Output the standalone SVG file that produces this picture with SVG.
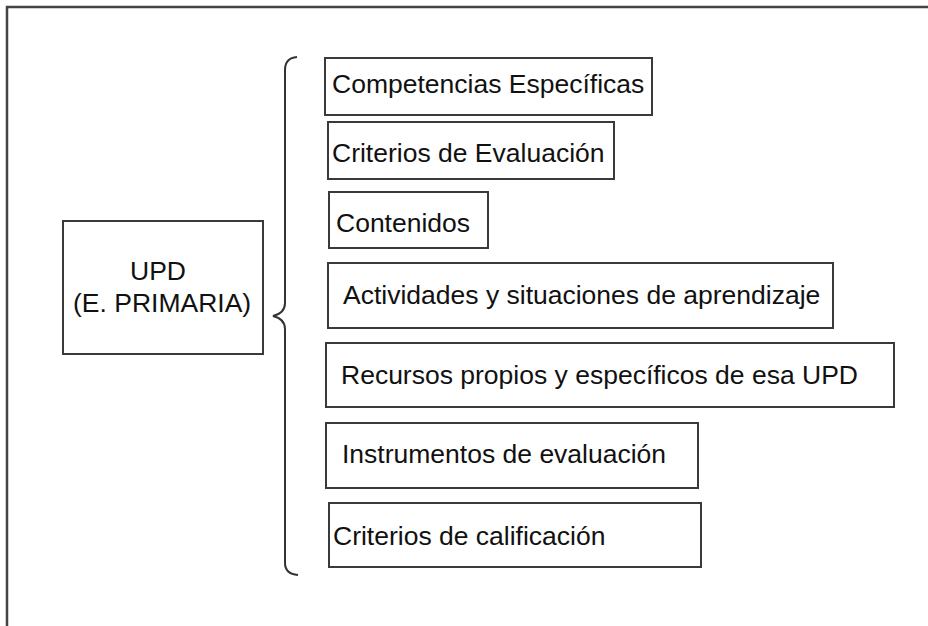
<svg xmlns="http://www.w3.org/2000/svg" width="928" height="626" viewBox="0 0 928 626">
<style>
.box{fill:#fff;stroke:#3a3a3a;stroke-width:2}
.t{font-family:"Liberation Sans",Arial,sans-serif;font-size:26.5px;fill:#111}
.frame{fill:none;stroke:#444;stroke-width:2.5}
.brace{fill:none;stroke:#333;stroke-width:2}
</style>
<rect width="928" height="626" fill="#fff"/>
<path class="frame" d="M7,626 L7,7 L928,7"/>
<g id="connectors">
<path class="brace" d="M297,57 Q285,58 285,70 L285,303 Q285,313 273,316 Q285,319 285,329 L285,563 Q285,574 298,575"/>
</g>
<g id="upd">
<rect class="box" x="63" y="221" width="200" height="133"/>
<text class="t" x="130" y="280">UPD</text>
<text class="t" x="73" y="312">(E. PRIMARIA)</text>
</g>
<g id="competencias">
<rect class="box" x="325" y="58" width="327" height="57"/>
<text class="t" x="332" y="93">Competencias Específicas</text>
</g>
<g id="criterios-evaluacion">
<rect class="box" x="328" y="122" width="286" height="57"/>
<text class="t" x="332" y="162">Criterios de Evaluación</text>
</g>
<g id="contenidos">
<rect class="box" x="329" y="192" width="159" height="56"/>
<text class="t" x="336" y="232">Contenidos</text>
</g>
<g id="actividades">
<rect class="box" x="328" y="263" width="505" height="65"/>
<text class="t" x="343" y="304">Actividades y situaciones de aprendizaje</text>
</g>
<g id="recursos">
<rect class="box" x="326" y="343" width="568" height="64"/>
<text class="t" x="341" y="384">Recursos propios y específicos de esa UPD</text>
</g>
<g id="instrumentos">
<rect class="box" x="326" y="423" width="372" height="65"/>
<text class="t" x="342" y="463">Instrumentos de evaluación</text>
</g>
<g id="criterios-calificacion">
<rect class="box" x="329" y="503" width="372" height="64"/>
<text class="t" x="333" y="545">Criterios de calificación</text>
</g>
</svg>
